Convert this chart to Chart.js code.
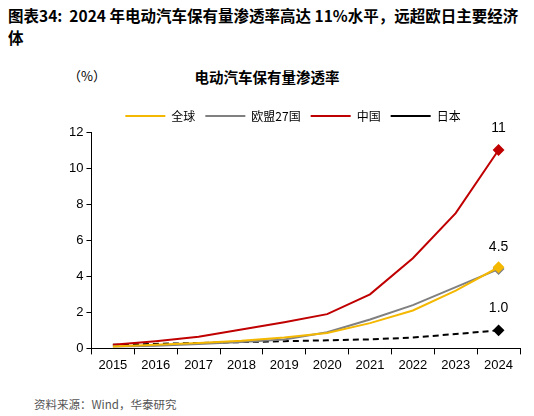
<!DOCTYPE html>
<html><head><meta charset="utf-8">
<script src="https://cdn.jsdelivr.net/npm/chart.js@4"></script>
<style>
body{margin:0;width:534px;height:416px;background:#fff;font-family:"Noto Sans CJK SC","Liberation Sans",sans-serif;position:relative}
#t{position:absolute;left:8px;top:4px;width:520px;font-size:15.5px;font-weight:bold;line-height:22px;color:#000}
#u{position:absolute;left:68px;top:66px;font-size:13px}
#st{position:absolute;left:0;width:534px;top:66px;text-align:center;font-size:14.5px;font-weight:bold}
#src{position:absolute;left:34px;top:396px;font-size:11.5px;color:#555}
#c{position:absolute;left:66px;top:100px;width:464px;height:276px}
</style></head><body>
<div id="t">图表34:&nbsp; 2024 年电动汽车保有量渗透率高达 11%水平，远超欧日主要经济体</div>
<div id="u">（%）</div>
<div id="st">电动汽车保有量渗透率</div>
<div id="c"><canvas id="myChart"></canvas></div>
<div id="src">资料来源：Wind，华泰研究</div>
<script>
const years = ['2015','2016','2017','2018','2019','2020','2021','2022','2023','2024'];
const global = [0.1,0.2,0.3,0.42,0.6,0.85,1.4,2.1,3.2,4.5];
const eu27 = [0.1,0.15,0.25,0.35,0.5,0.9,1.6,2.4,3.4,4.4];
const china = [0.2,0.4,0.65,1.05,1.45,1.9,3.0,5.0,7.5,11];
const japan = [0.2,0.25,0.3,0.35,0.4,0.45,0.5,0.6,0.8,1.0];
const endLabels = ['', '4.5', '11', '1.0'];

const lastOnly = (c) => c.dataIndex === years.length - 1 ? 4.5 : 0;
const mk = (label, data, color, dash) => ({
  label, data, borderColor: color, backgroundColor: color, borderWidth: 2,
  borderDash: dash || [], pointStyle: 'rectRot', pointRadius: lastOnly, pointHoverRadius: 0,
  tension: 0
});

const labelPlugin = {
  id: 'endLabels',
  afterDatasetsDraw(chart){
    const c = chart.ctx;
    c.save(); c.font = '14px "Liberation Sans"'; c.fillStyle = '#000'; c.textAlign = 'center';
    chart.data.datasets.forEach((ds, i) => {
      if(!endLabels[i]) return;
      const p = chart.getDatasetMeta(i).data[years.length - 1];
      c.fillText(endLabels[i], p.x, p.y - 22);
    });
    c.restore();
  }
};

const ctx = document.getElementById('myChart').getContext('2d');
new Chart(ctx, {
  type: 'line',
  data: {
    labels: years,
    datasets: [
      mk('全球', global, '#f5b800'),
      mk('欧盟27国', eu27, '#808080'),
      mk('中国', china, '#c00000'),
      mk('日本', japan, '#000000', [6,4])
    ]
  },
  options: {
    animation: false, responsive: true, maintainAspectRatio: false,
    layout: {padding: {right: 10}},
    plugins: {
      legend: {labels: {boxWidth: 40, boxHeight: 0, font: {size: 12, family: '"Noto Sans CJK SC"'}, color: '#000',
        generateLabels(chart){
          return chart.data.datasets.map((d, i) => ({text: d.label, strokeStyle: d.borderColor, fillStyle: d.borderColor,
            lineWidth: 2, lineDash: d.borderDash, datasetIndex: i, fontColor: '#000'}));
        }}},
      tooltip: {enabled: false}
    },
    scales: {
      x: {offset: true, grid: {display: true, drawOnChartArea: false, offset: true, color: '#000', tickLength: 6},
        border: {color: '#000'}, ticks: {color: '#000', font: {size: 13, family: '"Liberation Sans"'}}},
      y: {min: 0, max: 12, ticks: {stepSize: 2, color: '#000', font: {size: 13, family: '"Liberation Sans"'}},
        grid: {drawOnChartArea: false, color: '#000', tickLength: 5}, border: {color: '#000'}}
    }
  },
  plugins: [labelPlugin]
});
</script>
</body></html>
